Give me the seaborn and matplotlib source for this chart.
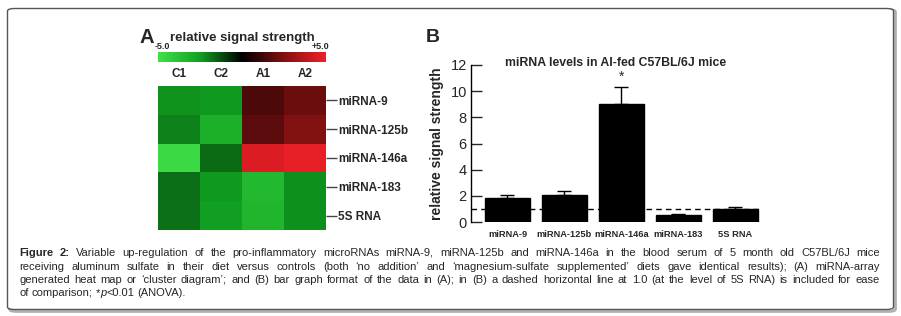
import numpy as np
import pandas as pd
import matplotlib
matplotlib.use("Agg")
import matplotlib.pyplot as plt
import seaborn as sns
from matplotlib.colors import LinearSegmentedColormap
from matplotlib.patches import FancyBboxPatch

# ---------------- data ----------------
heat_cols = ["C1", "C2", "A1", "A2"]
heat_rows = ["miRNA-9", "miRNA-125b", "miRNA-146a", "miRNA-183", "5S RNA"]
heat_c1 = [-2.3, -2.0, -4.7, -1.7, -1.75]
heat_c2 = [-2.4, -3.1, -1.66, -2.4, -2.5]
heat_a1 = [1.45, 1.76, 4.5, -3.4, -3.3]
heat_a2 = [2.1, 2.5, 4.8, -2.25, -2.25]

bar_labels = ["miRNA-9", "miRNA-125b", "miRNA-146a", "miRNA-183", "5S RNA"]
bar_values = [1.8, 2.1, 9.0, 0.5, 1.0]
bar_errors = [0.25, 0.3, 1.35, 0.08, 0.15]
ref_level = 1.0

caption_lines = [
    "Figure 2: Variable up-regulation of the pro-inflammatory microRNAs miRNA-9, miRNA-125b and miRNA-146a in the blood serum of 5 month old C57BL/6J mice",
    "receiving aluminum sulfate in their diet versus controls (both \u2018no addition\u2019 and \u2018magnesium-sulfate supplemented\u2019 diets gave identical results); (A) miRNA-array",
    "generated heat map or \u2018cluster diagram\u2019; and (B) bar graph format of the data in (A); in (B) a dashed horizontal line at 1.0 (at the level of 5S RNA) is included for ease",
    "of comparison; *p<0.01 (ANOVA).",
]

# ---------------- setup ----------------
sns.set_style("white")
main_font = ["Liberation Sans", "DejaVu Sans"]
plt.rcParams["font.family"] = main_font

W, H = 901, 316
fig = plt.figure(figsize=(W / 100, H / 100), dpi=100)


def box(x0, y0, x1, y1):
    # pixel box (top-left origin) -> figure fraction rect
    return [x0 / W, 1 - y1 / H, (x1 - x0) / W, (y1 - y0) / H]


# frame with shadow (behind everything)
shadow = FancyBboxPatch((9.5 / W, 1 - 311.5 / H), 886 / W, 302 / H,
                        boxstyle="round,pad=0,rounding_size=0.008",
                        transform=fig.transFigure, facecolor="none",
                        edgecolor="#b0b0b0", linewidth=2.0, zorder=-3)
frame = FancyBboxPatch((7.5 / W, 1 - 309.5 / H), 886 / W, 301 / H,
                       boxstyle="round,pad=0,rounding_size=0.008",
                       transform=fig.transFigure, facecolor="white",
                       edgecolor="#555555", linewidth=1.0, zorder=-2)
fig.patches.extend([shadow, frame])

# ---------------- panel A: heatmap ----------------
cmap = LinearSegmentedColormap.from_list(
    "gbr", [(0.0, "#40e048"), (0.25, "#10a020"), (0.5, "#000000"),
            (0.75, "#801010"), (1.0, "#f02028")])
df = pd.DataFrame({"C1": heat_c1, "C2": heat_c2, "A1": heat_a1, "A2": heat_a2},
                  index=heat_rows)[heat_cols]

axh = fig.add_axes(box(158, 86, 326, 230))
cax = fig.add_axes(box(158, 52, 326, 62))
sns.heatmap(df, ax=axh, cmap=cmap, vmin=-5, vmax=5, cbar_ax=cax,
            cbar_kws={"orientation": "horizontal"}, linewidths=0)
cax.set_xticks([])
cax.set_yticks([])
for s in cax.spines.values():
    s.set_visible(False)
axh.xaxis.tick_top()
axh.tick_params(axis="x", length=0, pad=4, labelsize=8.5)
for t in axh.get_xticklabels():
    t.set_fontweight("bold")
axh.yaxis.tick_right()
axh.tick_params(axis="y", length=8, width=1.0, color="#444444", pad=1,
                labelsize=8.5, labelrotation=0, right=True, left=False)
for t in axh.get_yticklabels():
    t.set_fontweight("bold")
axh.set_xlabel("")
axh.set_ylabel("")

fig.text(139 / W, 1 - 43 / H, "A", fontsize=14.5, fontweight="bold", ha="left", va="baseline")
fig.text(242 / W, 1 - 41 / H, "relative signal strength", fontsize=9.5, fontweight="bold",
         ha="center", va="baseline")
fig.text(155 / W, 1 - 49 / H, "-5.0", fontsize=6.5, fontweight="bold", ha="left", va="baseline")
fig.text(329 / W, 1 - 49 / H, "+5.0", fontsize=6.5, fontweight="bold", ha="right", va="baseline")

# ---------------- panel B: bar chart ----------------
axb = fig.add_axes(box(471, 65, 760, 222))
axb.patch.set_alpha(0)
bdf = pd.DataFrame({"label": bar_labels, "value": bar_values})
sns.barplot(data=bdf, x="label", y="value", ax=axb, color="black", width=0.79,
            saturation=1, errorbar=None, edgecolor="black")
axb.errorbar(np.arange(len(bar_values)), bar_values,
             yerr=[np.zeros(len(bar_errors)), bar_errors], fmt="none",
             ecolor="black", elinewidth=1.0, capsize=5, capthick=1.0, zorder=3)
axb.axhline(ref_level, color="black", linestyle=(0, (4, 3)), linewidth=1.0, zorder=1)
axb.set_xlim(-0.64, 4.43)
axb.set_ylim(0, 12)
axb.set_yticks([0, 2, 4, 6, 8, 10, 12])
axb.tick_params(axis="y", direction="in", length=8, width=1.0, labelsize=10.5, pad=3, left=True)
axb.tick_params(axis="x", length=0, labelsize=6.7, pad=6)
for t in axb.get_xticklabels():
    t.set_fontweight("bold")
for s in ["top", "right", "bottom"]:
    axb.spines[s].set_visible(False)
axb.spines["left"].set_color("black")
axb.spines["left"].set_linewidth(1.0)
axb.set_xlabel("")
axb.set_ylabel("relative signal strength", fontsize=10, fontweight="bold", labelpad=5)
axb.text(2, bar_values[2] + bar_errors[2] + 0.2, "*", ha="center", va="bottom", fontsize=10)
axb.text(0.5, 1.01, "miRNA levels in Al-fed C57BL/6J mice", transform=axb.transAxes,
         ha="center", va="center", fontsize=8.8, fontweight="bold")
fig.text(426 / W, 1 - 42 / H, "B", fontsize=14, fontweight="bold", ha="left", va="baseline")

# ---------------- caption (justified) ----------------
renderer = fig.canvas.get_renderer()
left_px, right_px = 19, 880
baselines = [255.5, 269.5, 283, 296.5]
cap_size = 8.0


def make_runs(word):
    if word in ("Figure", "2:"):
        return [(word, {"fontweight": "bold"})]
    if word.startswith("*p<"):
        return [("*", {}), ("p", {"fontstyle": "italic"}), (word[2:], {})]
    return [(word, {})]


def width_of(text, props, size):
    t = fig.text(0, 0, text, fontsize=size, **props)
    w = t.get_window_extent(renderer).width
    t.remove()
    return w


space_w = width_of("a a", {}, cap_size) - width_of("aa", {}, cap_size)

for i, line in enumerate(caption_lines):
    words = line.split(" ")
    wruns = [make_runs(w) for w in words]
    wwidths = [sum(width_of(t, p, cap_size) for t, p in r) for r in wruns]
    justify = i < len(caption_lines) - 1
    if justify:
        gap = (right_px - left_px - sum(wwidths)) / (len(words) - 1)
    else:
        gap = space_w
    x = left_px
    y = 1 - baselines[i] / H
    for runs, ww in zip(wruns, wwidths):
        xx = x
        for t, p in runs:
            fig.text(xx / W, y, t, fontsize=cap_size, ha="left", va="baseline", **p)
            xx += width_of(t, p, cap_size)
        x += ww + gap

fig.savefig("out.png", dpi=100)
